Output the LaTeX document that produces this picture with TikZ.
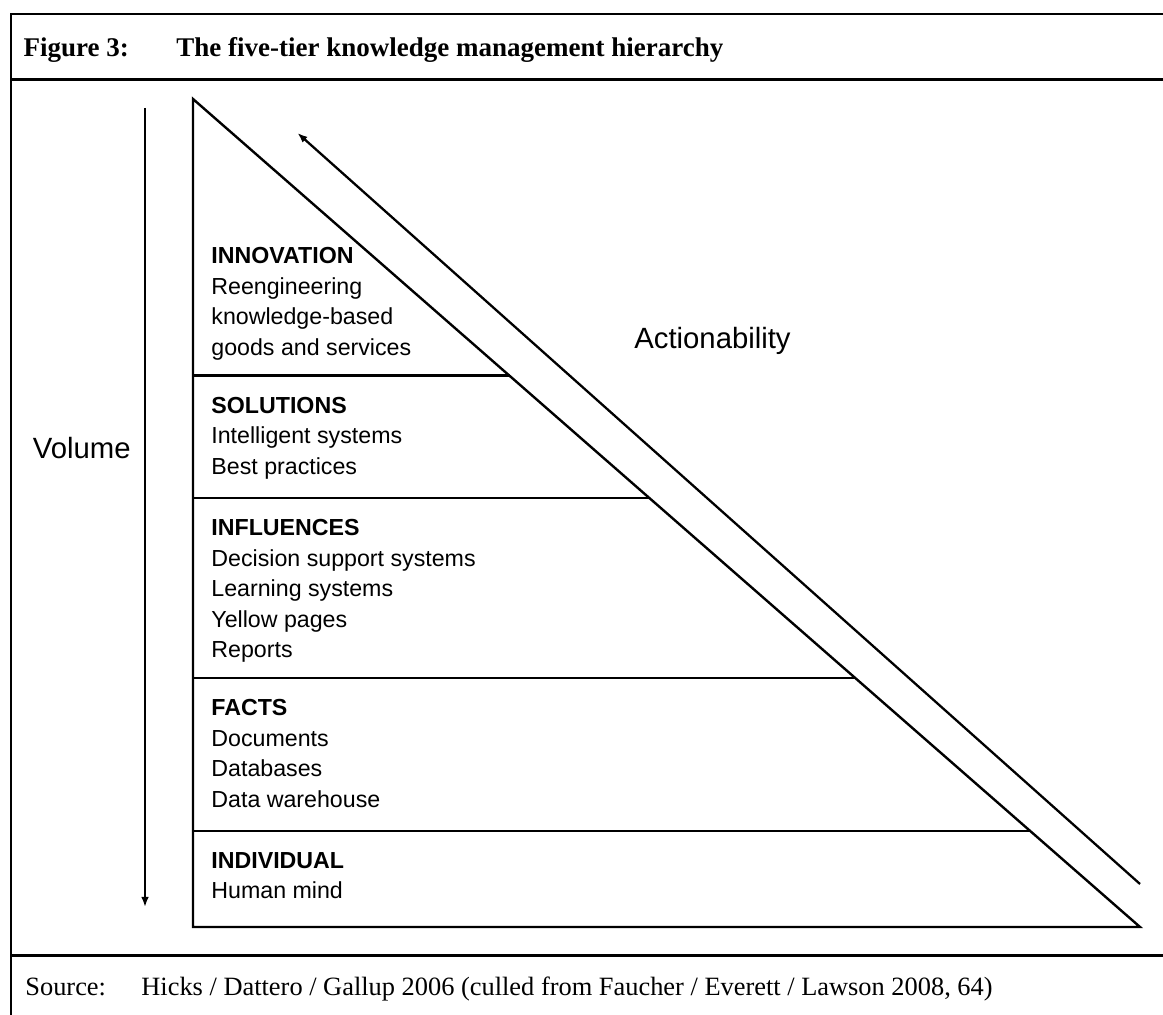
\documentclass[tikz,border=0pt]{standalone}
\usepackage{fontspec}
\setmainfont{Liberation Serif}
\setsansfont{Liberation Sans}
\usetikzlibrary{arrows.meta}

\tikzset{
  frameline/.style={line width=1.35pt},
  tierline/.style={line width=1.2pt},
  axisarrow/.style={line width=1.15pt, -{Latex[length=5pt,width=3.8pt]}},
  tiertext/.style={anchor=north west, inner sep=0pt, align=left,
    font=\sffamily\fontsize{11.6pt}{15.25pt}\selectfont},
  axislabel/.style={anchor=base, inner sep=0pt,
    font=\sffamily\fontsize{14.65pt}{17pt}\selectfont},
  captiontext/.style={anchor=base west, inner sep=0pt,
    font=\fontsize{13.2pt}{16pt}\selectfont},
  titletext/.style={captiontext, font=\bfseries\fontsize{13.5pt}{16pt}\selectfont}
}

\begin{document}
\begin{tikzpicture}[x=0.5pt,y=0.5pt,yscale=-1,xscale=1]
\useasboundingbox (0,0) rectangle (1163,1015);

%Frame
\draw [frameline] (1163,14) -- (11,14) -- (11,1015) ;
\draw [frameline] (11,79.5) -- (1163,79.5) ;
\draw [frameline] (11,955.5) -- (1163,955.5) ;

% Text Node
\node [titletext] (fignum) at (23.3,56.7) {Figure 3:};
% Text Node
\node [titletext] (figtitle) at (176,56.7) {The five-tier knowledge management hierarchy};

%Shape: Triangle
\coordinate (apex) at (193,99);
\coordinate (base left) at (193,927);
\coordinate (base right) at (1140,927);
\draw [tierline,line join=miter] (apex) -- (base right) -- (base left) -- cycle ;

%Straight Lines (tiers)
\draw [tierline] (193,375.7) -- (509.6,375.7) ;
\draw [tierline] (193,498) -- (649.5,498) ;
\draw [tierline] (193,678) -- (855.5,678) ;
\draw [tierline] (193,831) -- (1030.5,831) ;

%Arrows
\coordinate (vol top) at (145,108);
\coordinate (vol end) at (145,907);
\draw [axisarrow] (vol top) -- (vol end) ;
\coordinate (act start) at (1140,884);
\coordinate (act end) at (297.5,133);
\draw [axisarrow] (act start) -- (act end) ;

% Text Node
\node [axislabel] (volume) at (81.7,459) {Volume};
% Text Node
\node [axislabel] (actionability) at (712.5,349) {Actionability};

% Text Node
\node [tiertext] (innovation) at (211,247) {\textbf{INNOVATION}\\Reengineering\\knowledge-based\\goods and services};
% Text Node
\node [tiertext] (solutions) at (211,396.7) {\textbf{SOLUTIONS}\\Intelligent systems\\Best practices};
% Text Node
\node [tiertext] (influences) at (211,519) {\textbf{INFLUENCES}\\Decision support systems\\Learning systems\\Yellow pages\\Reports};
% Text Node
\node [tiertext] (facts) at (211,699) {\textbf{FACTS}\\Documents\\Databases\\Data warehouse};
% Text Node
\node [tiertext] (individual) at (211,852) {\textbf{INDIVIDUAL}\\Human mind};

% Text Node
\node [captiontext] (srclabel) at (25,995) {Source:};
% Text Node
\node [captiontext] (srctext) at (141,995) {Hicks / Dattero / Gallup 2006 (culled from Faucher / Everett / Lawson 2008, 64)};

\end{tikzpicture}
\end{document}
